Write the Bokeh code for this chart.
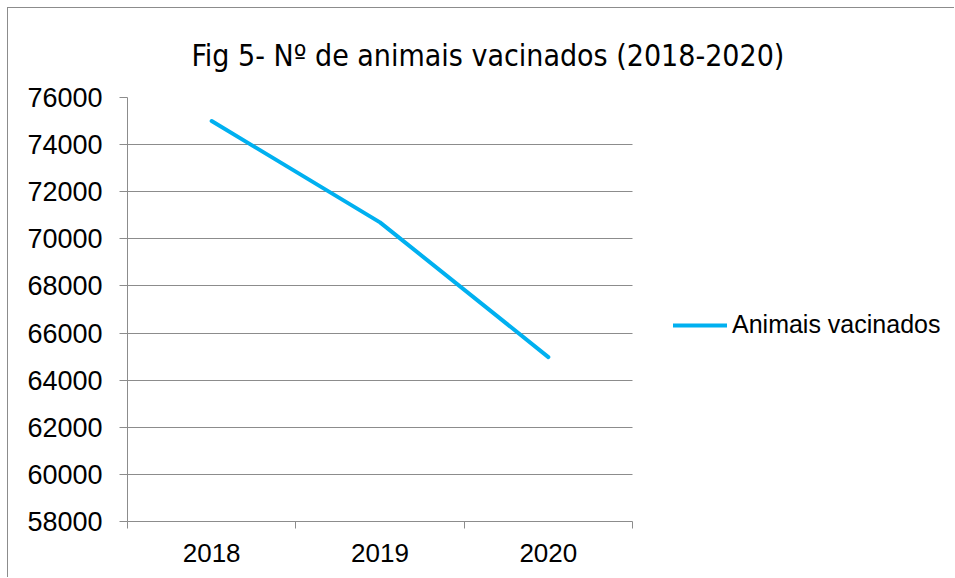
from bokeh.plotting import figure
from bokeh.models import Legend, LegendItem, FixedTicker, Range1d, Title
from bokeh.embed import file_html
from bokeh.resources import INLINE

# ---- data ----
years = ["2018", "2019", "2020"]
animais_vacinados = [75000, 70700, 64980]
y_ticks = [58000, 60000, 62000, 64000, 66000, 68000, 70000, 72000, 74000, 76000]
title_text = "Fig 5- Nº de animais vacinados (2018-2020)"
series_name = "Animais vacinados"

x_pos = [i + 0.5 for i in range(len(years))]
n = len(years)

ORG = 8  # page position of the canvas origin
W, H = 947, 570
FL, FR, FT, FB = 127, 632, 97, 521   # plot-area box (page px)
EXT = ORG + W                         # frame extended to the right edge to host the legend
p = figure(width=W, height=H, output_backend="svg", toolbar_location=None,
           x_range=Range1d(0, n * (EXT - FL) / (FR - FL)),
           y_range=Range1d(58000, 76000),
           min_border_left=FL - ORG, min_border_right=0,
           min_border_top=FT - ORG, min_border_bottom=H - (FB - ORG),
           background_fill_color="white", border_fill_color="white",
           outline_line_color=None)
p.styles = {"margin-left": "7px", "margin-top": "7px",
            "border-left": "1px solid #8c8c8c", "border-top": "1px solid #8c8c8c"}

p.title = Title(text=title_text, align="left", offset=64,
                text_font="DejaVu Sans Condensed", text_font_size="30px",
                text_font_style="normal", text_color="black", standoff=50)

line = p.line(x_pos, animais_vacinados, line_color="#00B0F0", line_width=4,
              line_join="round", line_cap="round")

gray = "#8c8c8c"
# y axis
p.yaxis.ticker = FixedTicker(ticks=y_ticks)
p.yaxis.axis_line_color = gray
p.yaxis.major_tick_line_color = gray
p.yaxis.major_tick_out = 8
p.yaxis.major_tick_in = 0
p.yaxis.minor_tick_line_color = None
p.yaxis.major_label_text_font = "Liberation Sans"
p.yaxis.major_label_text_font_size = "27px"
p.yaxis.major_label_text_color = "black"
p.yaxis.major_label_standoff = 17

# x axis: labels at category centres, tick marks at boundaries
p.xaxis.bounds = (0, n)
p.xaxis.ticker = FixedTicker(ticks=x_pos, minor_ticks=list(range(n + 1)))
p.xaxis.major_label_overrides = {x: y for x, y in zip(x_pos, years)}
p.xaxis.axis_line_color = gray
p.xaxis.major_tick_line_color = None
p.xaxis.major_tick_out = 0
p.xaxis.major_tick_in = 0
p.xaxis.minor_tick_line_color = gray
p.xaxis.minor_tick_out = 7
p.xaxis.minor_tick_in = 0
p.xaxis.major_label_text_font = "Liberation Sans"
p.xaxis.major_label_text_font_size = "26px"
p.xaxis.major_label_text_color = "black"
p.xaxis.major_label_standoff = 15

p.xgrid.grid_line_color = None
p.ygrid.ticker = FixedTicker(ticks=y_ticks)
p.ygrid.cross_bounds = (0, n)
p.ygrid.grid_line_color = gray
p.ygrid.grid_line_width = 1

legend = Legend(items=[LegendItem(label=series_name, renderers=[line])],
                location=(673 - FL, FB - 339), padding=0, margin=0,
                border_line_color=None, background_fill_alpha=0,
                glyph_width=54, glyph_height=26, label_height=26,
                label_standoff=5, label_text_font="Liberation Sans",
                label_text_font_size="25px", label_text_color="black")
p.add_layout(legend, "center")

open("out.html", "w").write(file_html(p, INLINE))
